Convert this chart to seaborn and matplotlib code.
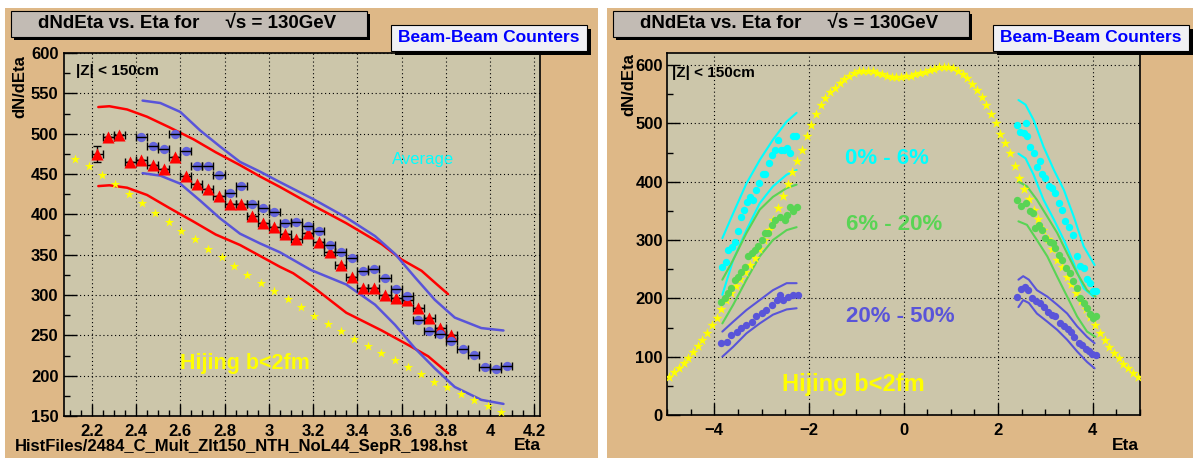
import numpy as np
import seaborn as sns
import matplotlib.pyplot as plt
from matplotlib.patches import Rectangle
from matplotlib.ticker import MultipleLocator

W, H = 1193, 458

# ===== left pad: BBC dN/dEta vs Eta (sqrt(s)=130GeV) =====
hij_eta_l = [2.126, 2.188, 2.247, 2.307, 2.367, 2.427, 2.487, 2.548, 2.605, 2.665, 2.726,
             2.787, 2.842, 2.903, 2.963, 3.025, 3.085, 3.145, 3.205, 3.266, 3.326, 3.387,
             3.447, 3.507, 3.568, 3.627, 3.688, 3.748, 3.807, 3.867, 3.928, 3.988, 4.047]
hij_l = [469, 460, 448.5, 437, 425, 414, 402, 391, 379, 369.5, 357, 347, 336, 325, 315, 304.6,
         295.5, 285, 274, 264, 255, 246, 236.6, 228, 219.5, 210.5, 202.5, 192.5, 186, 177, 170,
         162.5, 155]

red_eta = [2.225, 2.275, 2.325, 2.375, 2.425, 2.475, 2.525, 2.575, 2.625, 2.675, 2.725,
           2.775, 2.825, 2.875, 2.925, 2.975, 3.025, 3.075, 3.125, 3.175, 3.225, 3.275,
           3.325, 3.375, 3.425, 3.475, 3.525, 3.575, 3.625, 3.675, 3.725, 3.775, 3.825]
red_val = [474.6, 496, 498, 464.6, 467, 461, 455.6, 470.5, 447, 438, 431.5, 423, 412.5, 413,
           398.5, 389.5, 384.6, 375.3, 369, 377, 365.4, 353.6, 337.3, 322.8, 309, 308.3, 299.6,
           296.5, 294, 284, 271.6, 259, 250]
red_err = [10] + [0] * 32

blue_eta = [2.425, 2.475, 2.525, 2.575, 2.625, 2.675, 2.725, 2.775, 2.825, 2.875, 2.925,
            2.975, 3.025, 3.075, 3.125, 3.175, 3.225, 3.275, 3.325, 3.375, 3.425, 3.475,
            3.525, 3.575, 3.625, 3.675, 3.725, 3.775, 3.825, 3.875, 3.925, 3.975, 4.025, 4.075]
blue_val = [496, 484.5, 481.6, 499.8, 478, 460.5, 460.5, 449, 427, 435.7, 412.5, 408.4, 403,
            389.4, 390.2, 385, 379, 362, 353, 345.7, 330, 332, 320.7, 307.8, 298.3, 269.4,
            255.6, 251.6, 243.3, 233, 225.4, 211, 208.5, 211.7]

# envelope curves
red_hi_eta = [2.23, 2.28, 2.36, 2.45, 2.55, 2.66, 2.76, 2.87, 2.96, 3.05, 3.20, 3.35, 3.51, 3.60, 3.69, 3.76, 3.81]
red_hi = [533, 534, 530, 521, 508, 493, 477, 461, 447, 434, 411, 389, 363, 344, 330, 313, 301]
red_lo_eta = [2.23, 2.28, 2.36, 2.45, 2.55, 2.66, 2.76, 2.87, 2.99, 3.05, 3.11, 3.20, 3.35, 3.51, 3.63, 3.72, 3.81]
red_lo = [435, 436, 433, 424, 408, 391, 375, 362, 344, 335, 327, 310, 278, 256, 238, 224, 203]
blu_hi_eta = [2.43, 2.51, 2.60, 2.69, 2.78, 2.87, 2.96, 3.05, 3.20, 3.35, 3.48, 3.57, 3.66, 3.75, 3.84, 3.96, 4.06]
blu_hi = [541, 538, 527, 504, 484, 465, 453, 440, 419, 396, 373, 351, 322, 294, 272, 259, 256]
blu_lo_eta = [2.43, 2.51, 2.60, 2.69, 2.78, 2.87, 2.96, 3.05, 3.19, 3.35, 3.48, 3.57, 3.66, 3.75, 3.84, 3.96, 4.06]
blu_lo = [451, 448, 438, 417, 395, 376, 364, 353, 331, 313, 288, 263, 234, 209, 186, 170, 165]

# ===== right pad: centrality classes vs Hijing =====
hij_eta_r = [-4.95, -4.85, -4.75, -4.65, -4.55, -4.45, -4.35, -4.25, -4.15, -4.05,
             -3.95, -3.85, -3.75, -3.65, -3.55, -3.45, -3.35, -3.25, -3.15, -3.05,
             -2.95, -2.85, -2.75, -2.65, -2.55, -2.45, -2.35, -2.25, -2.15, -2.05,
             -1.95, -1.85, -1.75, -1.65, -1.55, -1.45, -1.35, -1.25, -1.15, -1.05,
             -0.95, -0.85, -0.75, -0.65, -0.55, -0.45, -0.35, -0.25, -0.15, -0.05,
             0.05, 0.15, 0.25, 0.35, 0.45, 0.55, 0.65, 0.75, 0.85, 0.95,
             1.05, 1.15, 1.25, 1.35, 1.45, 1.55, 1.65, 1.75, 1.85, 1.95,
             2.05, 2.15, 2.25, 2.35, 2.45, 2.55, 2.65, 2.75, 2.85, 2.95,
             3.05, 3.15, 3.25, 3.35, 3.45, 3.55, 3.65, 3.75, 3.85, 3.95,
             4.05, 4.15, 4.25, 4.35, 4.45, 4.55, 4.65, 4.75, 4.85, 4.95]
hij_r = [66, 73, 80, 89, 98, 108, 118, 129, 141, 154,
         167, 181, 198, 210, 221, 233, 245, 257, 270, 285,
         300, 317, 335, 355, 375, 396, 416, 436, 455, 478,
         498, 516, 531, 543, 553, 561, 569, 576, 582, 586,
         589, 590, 590, 589, 587, 584, 582, 580, 579, 580,
         581, 582, 584, 586, 588, 591, 594, 596, 597, 596,
         595, 590, 584, 577, 568, 557, 545, 532, 516, 500,
         482, 466, 450, 427, 407, 388, 370, 352, 336, 318,
         301, 284, 266, 253, 237, 224, 210, 195, 182, 168,
         154, 141, 128, 116, 106, 97, 88, 80, 72, 66]

c06_eta = [-3.83, -3.76, -3.70, -3.63, -3.57, -3.50, -3.44, -3.37, -3.31, -3.24, -3.18, -3.11, -3.05,
           -2.98, -2.92, -2.85, -2.79, -2.72, -2.66, -2.59, -2.53, -2.46, -2.40, -2.33, -2.27,
           2.41, 2.46, 2.54, 2.58, 2.61, 2.68, 2.75, 2.82, 2.88, 2.93, 3.00, 3.07, 3.14,
           3.21, 3.28, 3.35, 3.42, 3.49, 3.59, 3.67, 3.74, 3.81, 3.88, 3.95, 4.01, 4.08]
c06_val = [254, 262, 283, 288, 296, 316, 340, 352, 366, 374, 368, 385, 397,
           414, 414, 432, 446, 455, 471, 455, 454, 457, 450, 478, 478,
           497, 486, 483, 500, 478, 460, 449, 426, 436, 413, 406, 392, 389,
           380, 363, 352, 333, 322, 309, 272, 256, 252, 233, 226, 212, 212]
c620_eta = [-3.85, -3.78, -3.71, -3.64, -3.57, -3.50, -3.43, -3.36, -3.28, -3.21, -3.14, -3.07,
            -3.00, -2.93, -2.86, -2.79, -2.72, -2.61, -2.51, -2.47, -2.40, -2.33, -2.26,
            2.41, 2.49, 2.58, 2.67, 2.74, 2.79, 2.86, 2.93, 3.00, 3.09, 3.16, 3.21, 3.28,
            3.35, 3.44, 3.51, 3.59, 3.66, 3.74, 3.81, 3.88, 3.95, 4.01, 4.08]
c620_val = [194, 200, 209, 217, 232, 237, 246, 254, 272, 277, 283, 289,
            300, 312, 312, 326, 335, 340, 335, 343, 357, 349, 357,
            369, 359, 363, 349, 346, 320, 326, 317, 303, 297, 295, 286, 274,
            266, 252, 243, 230, 217, 200, 192, 183, 174, 166, 169]
c2050_eta = [-3.85, -3.74, -3.64, -3.53, -3.43, -3.32, -3.21, -3.11, -3.00, -2.90, -2.79,
             -2.68, -2.61, -2.54, -2.44, -2.33, -2.23,
             2.41, 2.49, 2.56, 2.63, 2.72, 2.81, 2.89, 2.98, 3.05, 3.14, 3.21, 3.30,
             3.39, 3.47, 3.54, 3.61, 3.71, 3.78, 3.85, 3.92, 3.99, 4.06]
c2050_val = [123, 126, 137, 143, 149, 154, 160, 169, 175, 180, 189,
             197, 206, 197, 203, 206, 206,
             203, 216, 219, 214, 200, 196, 192, 186, 177, 172, 169, 158,
             152, 147, 143, 133, 123, 120, 114, 109, 105, 103]

# envelopes (negative side, positive side)
env_neg_eta = [-3.83, -3.60, -3.32, -3.04, -2.76, -2.47, -2.26]
c06_hi_n = [303, 346, 397, 437, 472, 503, 518]
c06_lo_n = [206, 266, 317, 363, 392, 412, 420]
c620_hi_n = [232, 266, 312, 352, 374, 389, 395]
c620_lo_n = [157, 189, 232, 272, 300, 317, 322]
c2050_hi_n = [143, 160, 180, 197, 214, 226, 226]
c2050_lo_n = [100, 117, 140, 157, 172, 181, 183]

c06_hi_p_eta = [2.43, 2.58, 2.75, 2.96, 3.18, 3.39, 3.60, 3.81, 4.04]
c06_hi_p = [540, 532, 506, 460, 420, 386, 340, 289, 257]
c06_lo_p_eta = [2.43, 2.58, 2.75, 2.96, 3.18, 3.39, 3.60, 3.81, 4.02]
c06_lo_p = [448, 440, 412, 369, 335, 300, 260, 217, 203]
c620_p_eta = [2.43, 2.61, 2.82, 3.04, 3.25, 3.46, 3.67, 3.88, 4.06]
c620_hi_p = [400, 392, 369, 340, 312, 277, 243, 214, 203]
c620_lo_p = [332, 326, 300, 272, 237, 203, 169, 143, 134]
c2050_p_eta = [2.43, 2.53, 2.65, 2.82, 3.04, 3.25, 3.46, 3.67, 3.88, 4.04]
c2050_hi_p = [232, 238, 232, 214, 203, 189, 174, 152, 134, 123]
c2050_lo_p = [185, 197, 192, 174, 160, 146, 129, 109, 91, 80]

PAD = '#deb887'
FRAME = '#ccc6aa'
TITLEBOX = '#c2bbb4'
CYAN = '#00ffff'
GREEN = '#59d454'
BLUE = '#5954d9'
BLUE_PT = '#6464dc'


def frac(x0, y0, x1, y1):
    # pixel box (top-left origin) -> figure fraction rect
    return [x0 / W, 1 - y1 / H, (x1 - x0) / W, (y1 - y0) / H]


def box(fig, x0, y0, x1, y1, fc, shadow=3):
    l, b, w, h = frac(x0, y0, x1, y1)
    fig.patches.append(Rectangle((l + shadow / W, b - shadow / H), w, h, transform=fig.transFigure,
                                 fc='black', ec='black', lw=0, zorder=5))
    fig.patches.append(Rectangle((l, b), w, h, transform=fig.transFigure,
                                 fc=fc, ec='black', lw=0.8, zorder=6))


def ftext(fig, x, y, s, **kw):
    fig.text(x / W, 1 - y / H, s, zorder=7, **kw)


def style_axes(ax, xmaj, xmin, ymaj, ymin):
    ax.set_facecolor(FRAME)
    ax.xaxis.set_major_locator(MultipleLocator(xmaj))
    ax.xaxis.set_minor_locator(MultipleLocator(xmin))
    ax.yaxis.set_major_locator(MultipleLocator(ymaj))
    ax.yaxis.set_minor_locator(MultipleLocator(ymin))
    ax.tick_params(which='both', direction='in', top=False, right=False, width=1,
                   labelsize=12, colors='black')
    ax.tick_params(which='major', length=9)
    ax.tick_params(which='minor', length=4)
    for lab in ax.get_xticklabels() + ax.get_yticklabels():
        lab.set_fontweight('bold')
    ax.grid(True, which='major', color='black', lw=0.8, ls=(0, (1, 2.5)))
    ax.set_axisbelow(True)
    for sp in ax.spines.values():
        sp.set_color('black')
        sp.set_linewidth(1.2)
    ax.set_xlabel('')
    ax.set_ylabel('')


def plot_bbc():
    sns.set_style('ticks')
    plt.rcParams['font.family'] = ['Liberation Sans', 'DejaVu Sans']
    plt.rcParams['text.color'] = 'black'

    fig = plt.figure(figsize=(W / 100, H / 100), dpi=100, facecolor='white')
    # pads
    for x0, x1 in [(5, 598), (607, 1193)]:
        l, b, w, h = frac(x0, 8, x1, 458)
        fig.patches.append(Rectangle((l, b), w, h, transform=fig.transFigure,
                                     fc=PAD, ec='none', zorder=-10))

    # ---------- left ----------
    ax = fig.add_axes(frac(64, 53, 540, 416))
    ax.set_zorder(1)
    sns.lineplot(x=red_hi_eta, y=red_hi, color='red', lw=1.8, sort=False, estimator=None, ax=ax)
    sns.lineplot(x=red_lo_eta, y=red_lo, color='red', lw=1.8, sort=False, estimator=None, ax=ax)
    sns.lineplot(x=blu_hi_eta, y=blu_hi, color=BLUE, lw=1.8, sort=False, estimator=None, ax=ax)
    sns.lineplot(x=blu_lo_eta, y=blu_lo, color=BLUE, lw=1.8, sort=False, estimator=None, ax=ax)
    sns.scatterplot(x=hij_eta_l, y=hij_l, marker='*', s=50, color='yellow', linewidth=0, ax=ax, zorder=3)
    ax.errorbar(red_eta, red_val, xerr=0.025, yerr=red_err, fmt='none', ecolor='black',
                elinewidth=1, capsize=3, capthick=1, zorder=3)
    sns.scatterplot(x=red_eta, y=red_val, marker='^', s=75, color='red', linewidth=0, ax=ax, zorder=4)
    sns.scatterplot(x=blue_eta, y=blue_val, marker='o', s=45, color=BLUE_PT, linewidth=0, ax=ax, zorder=4)
    ax.errorbar(blue_eta, blue_val, xerr=0.025, fmt='none', ecolor='black',
                elinewidth=1, capsize=3, capthick=1, zorder=5)
    ax.set_xlim(2.075, 4.225)
    ax.set_ylim(150, 600)
    style_axes(ax, 0.2, 0.05, 50, 25)
    ax.set_xticks([2.2, 2.4, 2.6, 2.8, 3.0, 3.2, 3.4, 3.6, 3.8, 4.0, 4.2])
    ax.set_xticklabels(['2.2', '2.4', '2.6', '2.8', '3', '3.2', '3.4', '3.6', '3.8', '4', '4.2'],
                       fontweight='bold')
    ax.tick_params(axis='x', pad=6)
    ax.tick_params(axis='y', pad=4)
    ax.text(0.025, 0.95, '|Z| < 150cm', transform=ax.transAxes, fontsize=11,
            fontweight='bold', va='center', ha='left')
    ftext(fig, 423, 160, 'Average', color=CYAN, fontsize=12, ha='center', va='center')
    ftext(fig, 245, 363, 'Hijing b<2fm', color='yellow', fontsize=15.5, fontweight='bold',
          ha='center', va='center')

    # ---------- right ----------
    ar = fig.add_axes(frac(667, 53, 1140, 415))
    ar.set_zorder(1)
    for xs, hi, lo, col in [(env_neg_eta, c06_hi_n, c06_lo_n, CYAN),
                            (env_neg_eta, c620_hi_n, c620_lo_n, GREEN),
                            (env_neg_eta, c2050_hi_n, c2050_lo_n, BLUE)]:
        sns.lineplot(x=xs, y=hi, color=col, lw=1.5, sort=False, estimator=None, ax=ar)
        sns.lineplot(x=xs, y=lo, color=col, lw=1.5, sort=False, estimator=None, ax=ar)
    sns.lineplot(x=c06_hi_p_eta, y=c06_hi_p, color=CYAN, lw=1.5, sort=False, estimator=None, ax=ar)
    sns.lineplot(x=c06_lo_p_eta, y=c06_lo_p, color=CYAN, lw=1.5, sort=False, estimator=None, ax=ar)
    sns.lineplot(x=c620_p_eta, y=c620_hi_p, color=GREEN, lw=1.5, sort=False, estimator=None, ax=ar)
    sns.lineplot(x=c620_p_eta, y=c620_lo_p, color=GREEN, lw=1.5, sort=False, estimator=None, ax=ar)
    sns.lineplot(x=c2050_p_eta, y=c2050_hi_p, color=BLUE, lw=1.5, sort=False, estimator=None, ax=ar)
    sns.lineplot(x=c2050_p_eta, y=c2050_lo_p, color=BLUE, lw=1.5, sort=False, estimator=None, ax=ar)
    sns.scatterplot(x=hij_eta_r, y=hij_r, marker='*', s=60, color='yellow', linewidth=0, ax=ar, zorder=3)
    sns.scatterplot(x=c06_eta, y=c06_val, marker='o', s=28, color=CYAN, linewidth=0, ax=ar, zorder=4)
    sns.scatterplot(x=c620_eta, y=c620_val, marker='o', s=28, color=GREEN, linewidth=0, ax=ar, zorder=4)
    sns.scatterplot(x=c2050_eta, y=c2050_val, marker='o', s=28, color=BLUE, linewidth=0, ax=ar, zorder=4)
    ar.set_xlim(-5, 5)
    ar.set_ylim(0, 620.6)
    style_axes(ar, 2, 0.5, 100, 50)
    ar.tick_params(axis='x', pad=6)
    ar.tick_params(axis='y', pad=3)
    ar.text(0.01, 0.945, '|Z| < 150cm', transform=ar.transAxes, fontsize=11,
            fontweight='bold', va='center', ha='left')
    ftext(fig, 887, 158, '0% - 6%', color=CYAN, fontsize=16, fontweight='bold', ha='center', va='center')
    ftext(fig, 894, 225, '6% - 20%', color=GREEN, fontsize=16, fontweight='bold', ha='center', va='center')
    ftext(fig, 900, 317, '20% - 50%', color=BLUE, fontsize=16, fontweight='bold', ha='center', va='center')
    ftext(fig, 853, 384, 'Hijing b<2fm', color='yellow', fontsize=17, fontweight='bold',
          ha='center', va='center')

    # ---------- titles, labels ----------
    for off in (0, 602):
        box(fig, 11 + off, 11, 367 + off, 37, TITLEBOX, shadow=3)
        ftext(fig, 187 + off, 24, 'dNdEta vs. Eta for     \u221As = 130GeV', fontsize=13.5,
              fontweight='bold', ha='center', va='center')
        box(fig, 391 + off, 25, 587 + off, 51, '#f0f0f4', shadow=4)
        ftext(fig, 489 + off, 38, 'Beam-Beam Counters', color='blue', fontsize=12.5,
              fontweight='bold', ha='center', va='center')
    ftext(fig, 20, 55, 'dN/dEta', rotation=90, fontsize=12, fontweight='bold', ha='center', va='top')
    ftext(fig, 629, 53, 'dN/dEta', rotation=90, fontsize=12, fontweight='bold', ha='center', va='top')
    ftext(fig, 527, 446, 'Eta', fontsize=12.5, fontweight='bold', ha='center', va='center')
    ftext(fig, 1125, 446, 'Eta', fontsize=12.5, fontweight='bold', ha='center', va='center')
    ftext(fig, 15, 446, 'HistFiles/2484_C_Mult_Zlt150_NTH_NoL44_SepR_198.hst', fontsize=12,
          fontweight='bold', ha='left', va='center')

    fig.savefig('out.png', dpi=100, facecolor='white')


if __name__ == '__main__':
    plot_bbc()
